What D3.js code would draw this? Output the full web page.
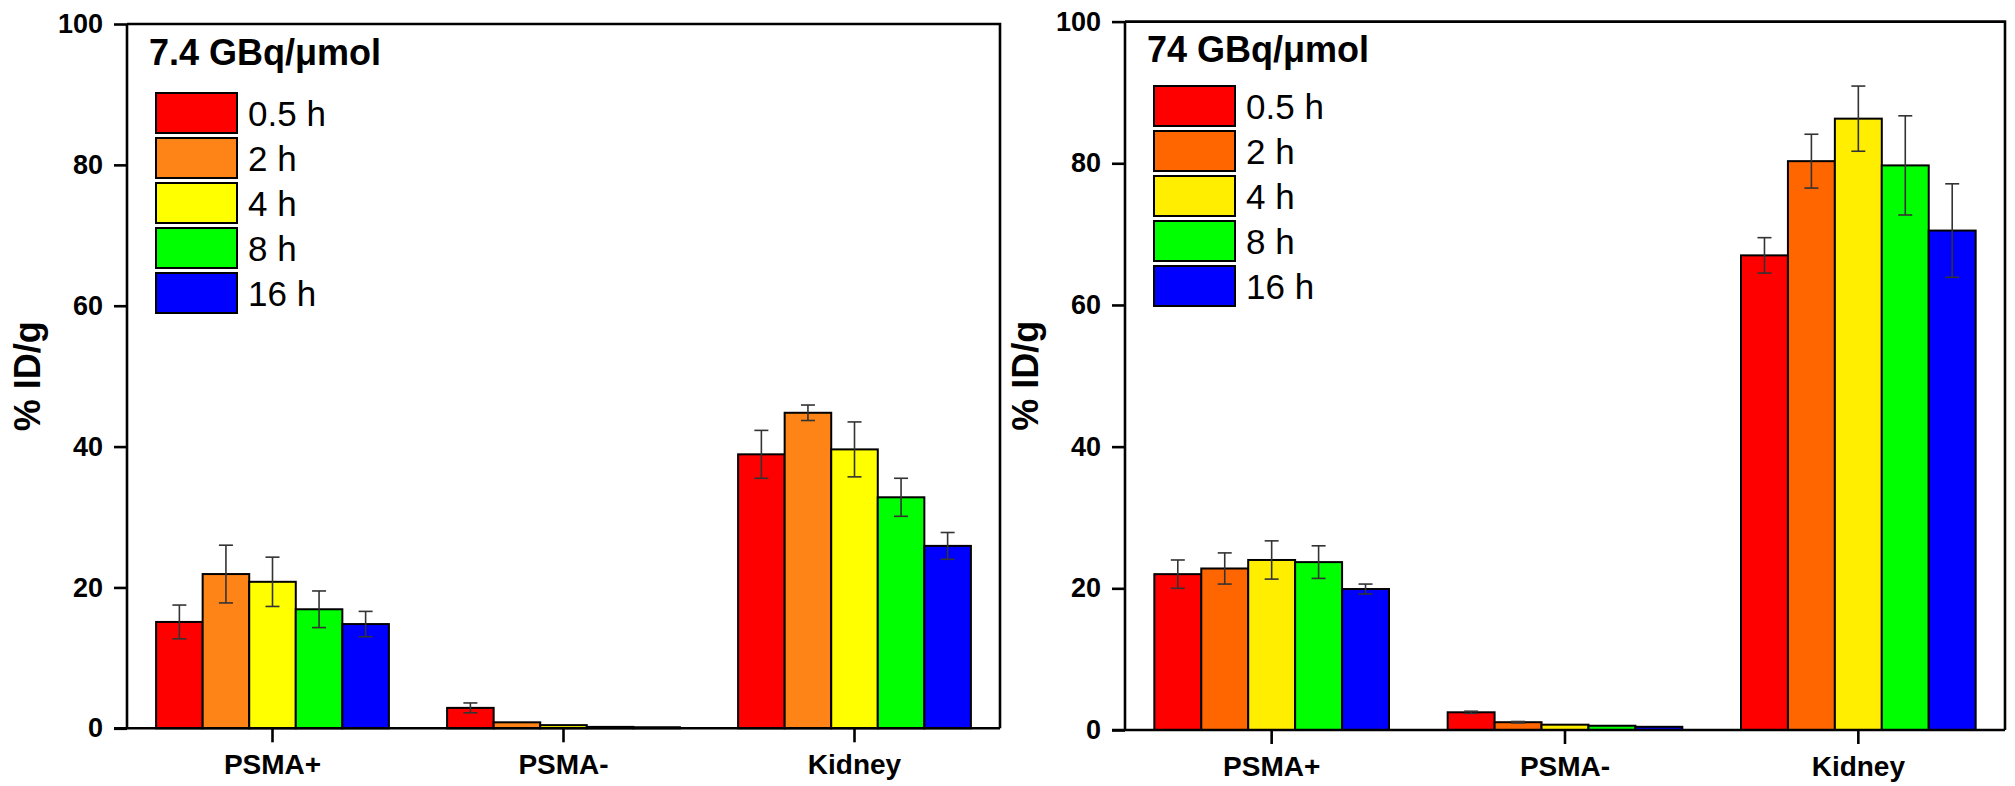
<!DOCTYPE html>
<html>
<head>
<meta charset="utf-8">
<script src="https://cdn.jsdelivr.net/npm/d3@7"></script>
<style>
  html, body { margin: 0; padding: 0; background: #fff; }
  svg { display: block; }
  text { font-family: Arial, "Liberation Sans", sans-serif; fill: #000; }
</style>
</head>
<body>
<svg id="chart" width="2015" height="786"></svg>
<script>
// ---------- DATA ----------
const categories = ["PSMA+", "PSMA-", "Kidney"];
const timepoints = ["0.5 h", "2 h", "4 h", "8 h", "16 h"];
const yTicks = [0, 20, 40, 60, 80, 100];
const yLabel = "% ID/g";

// Panel A: 7.4 GBq/μmol  (rows = timepoints, columns = categories)
const titleA = "7.4 GBq/\u03BCmol";
const meanA_05h = [15.1, 2.9, 38.9];
const meanA_2h  = [21.9, 0.85, 44.8];
const meanA_4h  = [20.8, 0.45, 39.6];
const meanA_8h  = [16.9, 0.2, 32.8];
const meanA_16h = [14.8, 0.15, 25.9];
const errA_05h = [2.4, 0.7, 3.4];
const errA_2h  = [4.1, 0, 1.1];
const errA_4h  = [3.5, 0, 3.9];
const errA_8h  = [2.6, 0, 2.7];
const errA_16h = [1.8, 0, 1.9];
const colorsA = ["#FF0000", "#FF8418", "#FFFF00", "#00FF00", "#0000FF"];

// Panel B: 74 GBq/μmol
const titleB = "74 GBq/\u03BCmol";
const meanB_05h = [22.0, 2.5, 67.0];
const meanB_2h  = [22.8, 1.1, 80.3];
const meanB_4h  = [24.0, 0.75, 86.3];
const meanB_8h  = [23.7, 0.6, 79.7];
const meanB_16h = [19.9, 0.45, 70.5];
const errB_05h = [2.0, 0.15, 2.5];
const errB_2h  = [2.2, 0.1, 3.8];
const errB_4h  = [2.7, 0, 4.6];
const errB_8h  = [2.3, 0, 7.0];
const errB_16h = [0.7, 0, 6.6];
const colorsB = ["#FF0000", "#FF6600", "#FFEE00", "#00FF00", "#0000FF"];

// ---------- DRAW ----------
const svg = d3.select("#chart");
const FONT = 'Arial, "Liberation Sans", sans-serif';

function buildRows(means, errs) {
  const rows = [];
  timepoints.forEach((t, si) => {
    categories.forEach((c, ci) => {
      rows.push({ series: t, si, cat: c, value: means[si][ci], err: errs[si][ci] });
    });
  });
  return rows;
}

function drawPanel(opt) {
  const g = svg.append("g");
  const x = d3.scaleBand().domain(categories).range([opt.x0, opt.x1])
    .paddingInner(0.2).paddingOuter(0.1);
  const xs = d3.scaleBand().domain(timepoints).range([0, x.bandwidth()]).padding(0);
  const y = d3.scaleLinear().domain([0, 100]).range([opt.yBottom, opt.yTop]);
  const color = d3.scaleOrdinal().domain(timepoints).range(opt.colors);

  const rows = buildRows(opt.means, opt.errs);

  // bars
  g.append("g").selectAll("rect").data(rows).join("rect")
    .attr("x", d => x(d.cat) + xs(d.series))
    .attr("y", d => y(d.value))
    .attr("width", xs.bandwidth())
    .attr("height", d => y(0) - y(d.value))
    .attr("fill", d => color(d.series))
    .attr("stroke", "#000")
    .attr("stroke-width", 2);

  // error bars
  const eb = g.append("g").attr("stroke", "#333").attr("stroke-width", 1.6).attr("fill", "none");
  const cap = 7;
  rows.filter(d => d.err > 0).forEach(d => {
    const cx = x(d.cat) + xs(d.series) + xs.bandwidth() / 2;
    const yt = y(d.value + d.err), yb = y(d.value - d.err);
    eb.append("line").attr("x1", cx).attr("x2", cx).attr("y1", yt).attr("y2", yb);
    eb.append("line").attr("x1", cx - cap).attr("x2", cx + cap).attr("y1", yt).attr("y2", yt);
    eb.append("line").attr("x1", cx - cap).attr("x2", cx + cap).attr("y1", yb).attr("y2", yb);
  });

  // frame (top & right)
  g.append("path")
    .attr("d", `M${opt.x0},${y(100)} H${opt.x1} V${y(0)}`)
    .attr("fill", "none").attr("stroke", "#000").attr("stroke-width", 2.6);

  // y axis
  const yAxis = d3.axisLeft(y).tickValues(yTicks).tickSize(13).tickPadding(11).tickFormat(d3.format("d"));
  const ya = g.append("g").attr("transform", `translate(${opt.x0},0)`).call(yAxis);
  ya.select(".domain").attr("stroke", "#000").attr("stroke-width", 2.6)
    .attr("d", `M0,${y(0)}V${y(100)}`);
  ya.selectAll(".tick line").attr("stroke", "#000").attr("stroke-width", 2.6);
  ya.selectAll(".tick text").attr("font-family", FONT).attr("font-size", 27)
    .attr("font-weight", "bold").attr("fill", "#000");

  // x axis
  const xAxis = d3.axisBottom(x).tickSize(14).tickPadding(12);
  const xa = g.append("g").attr("transform", `translate(0,${y(0)})`).call(xAxis);
  xa.select(".domain").attr("stroke", "#000").attr("stroke-width", 2.6)
    .attr("d", `M${opt.x0 - 13},0H${opt.x1}`);
  xa.selectAll(".tick line").attr("stroke", "#000").attr("stroke-width", 2.6);
  xa.selectAll(".tick text").attr("font-family", FONT).attr("font-size", 28)
    .attr("font-weight", "bold").attr("fill", "#000");

  // y title
  g.append("text")
    .attr("transform", `translate(${opt.x0 - 87},${(y(0) + y(100)) / 2}) rotate(-90)`)
    .attr("text-anchor", "middle")
    .attr("font-size", 36).attr("font-weight", "bold")
    .text(yLabel);

  // panel title
  g.append("text")
    .attr("x", opt.x0 + 22).attr("y", opt.titleY)
    .attr("font-size", 36).attr("font-weight", "bold")
    .text(opt.title);

  // legend
  const lg = g.append("g");
  timepoints.forEach((t, i) => {
    const ly = opt.legendY + i * 45;
    lg.append("rect")
      .attr("x", opt.x0 + 29).attr("y", ly)
      .attr("width", 81).attr("height", 40)
      .attr("fill", color(t)).attr("stroke", "#000").attr("stroke-width", 2);
    lg.append("text")
      .attr("x", opt.x0 + 29 + 92).attr("y", ly + 20)
      .attr("dominant-baseline", "central")
      .attr("font-size", 35)
      .text(t);
  });
}

drawPanel({
  x0: 127, x1: 1000, yTop: 24, yBottom: 728.3,
  title: titleA, titleY: 65, legendY: 93,
  colors: colorsA,
  means: [meanA_05h, meanA_2h, meanA_4h, meanA_8h, meanA_16h],
  errs: [errA_05h, errA_2h, errA_4h, errA_8h, errA_16h]
});

drawPanel({
  x0: 1125, x1: 2005, yTop: 21.6, yBottom: 730,
  title: titleB, titleY: 62, legendY: 86,
  colors: colorsB,
  means: [meanB_05h, meanB_2h, meanB_4h, meanB_8h, meanB_16h],
  errs: [errB_05h, errB_2h, errB_4h, errB_8h, errB_16h]
});
</script>
</body>
</html>
